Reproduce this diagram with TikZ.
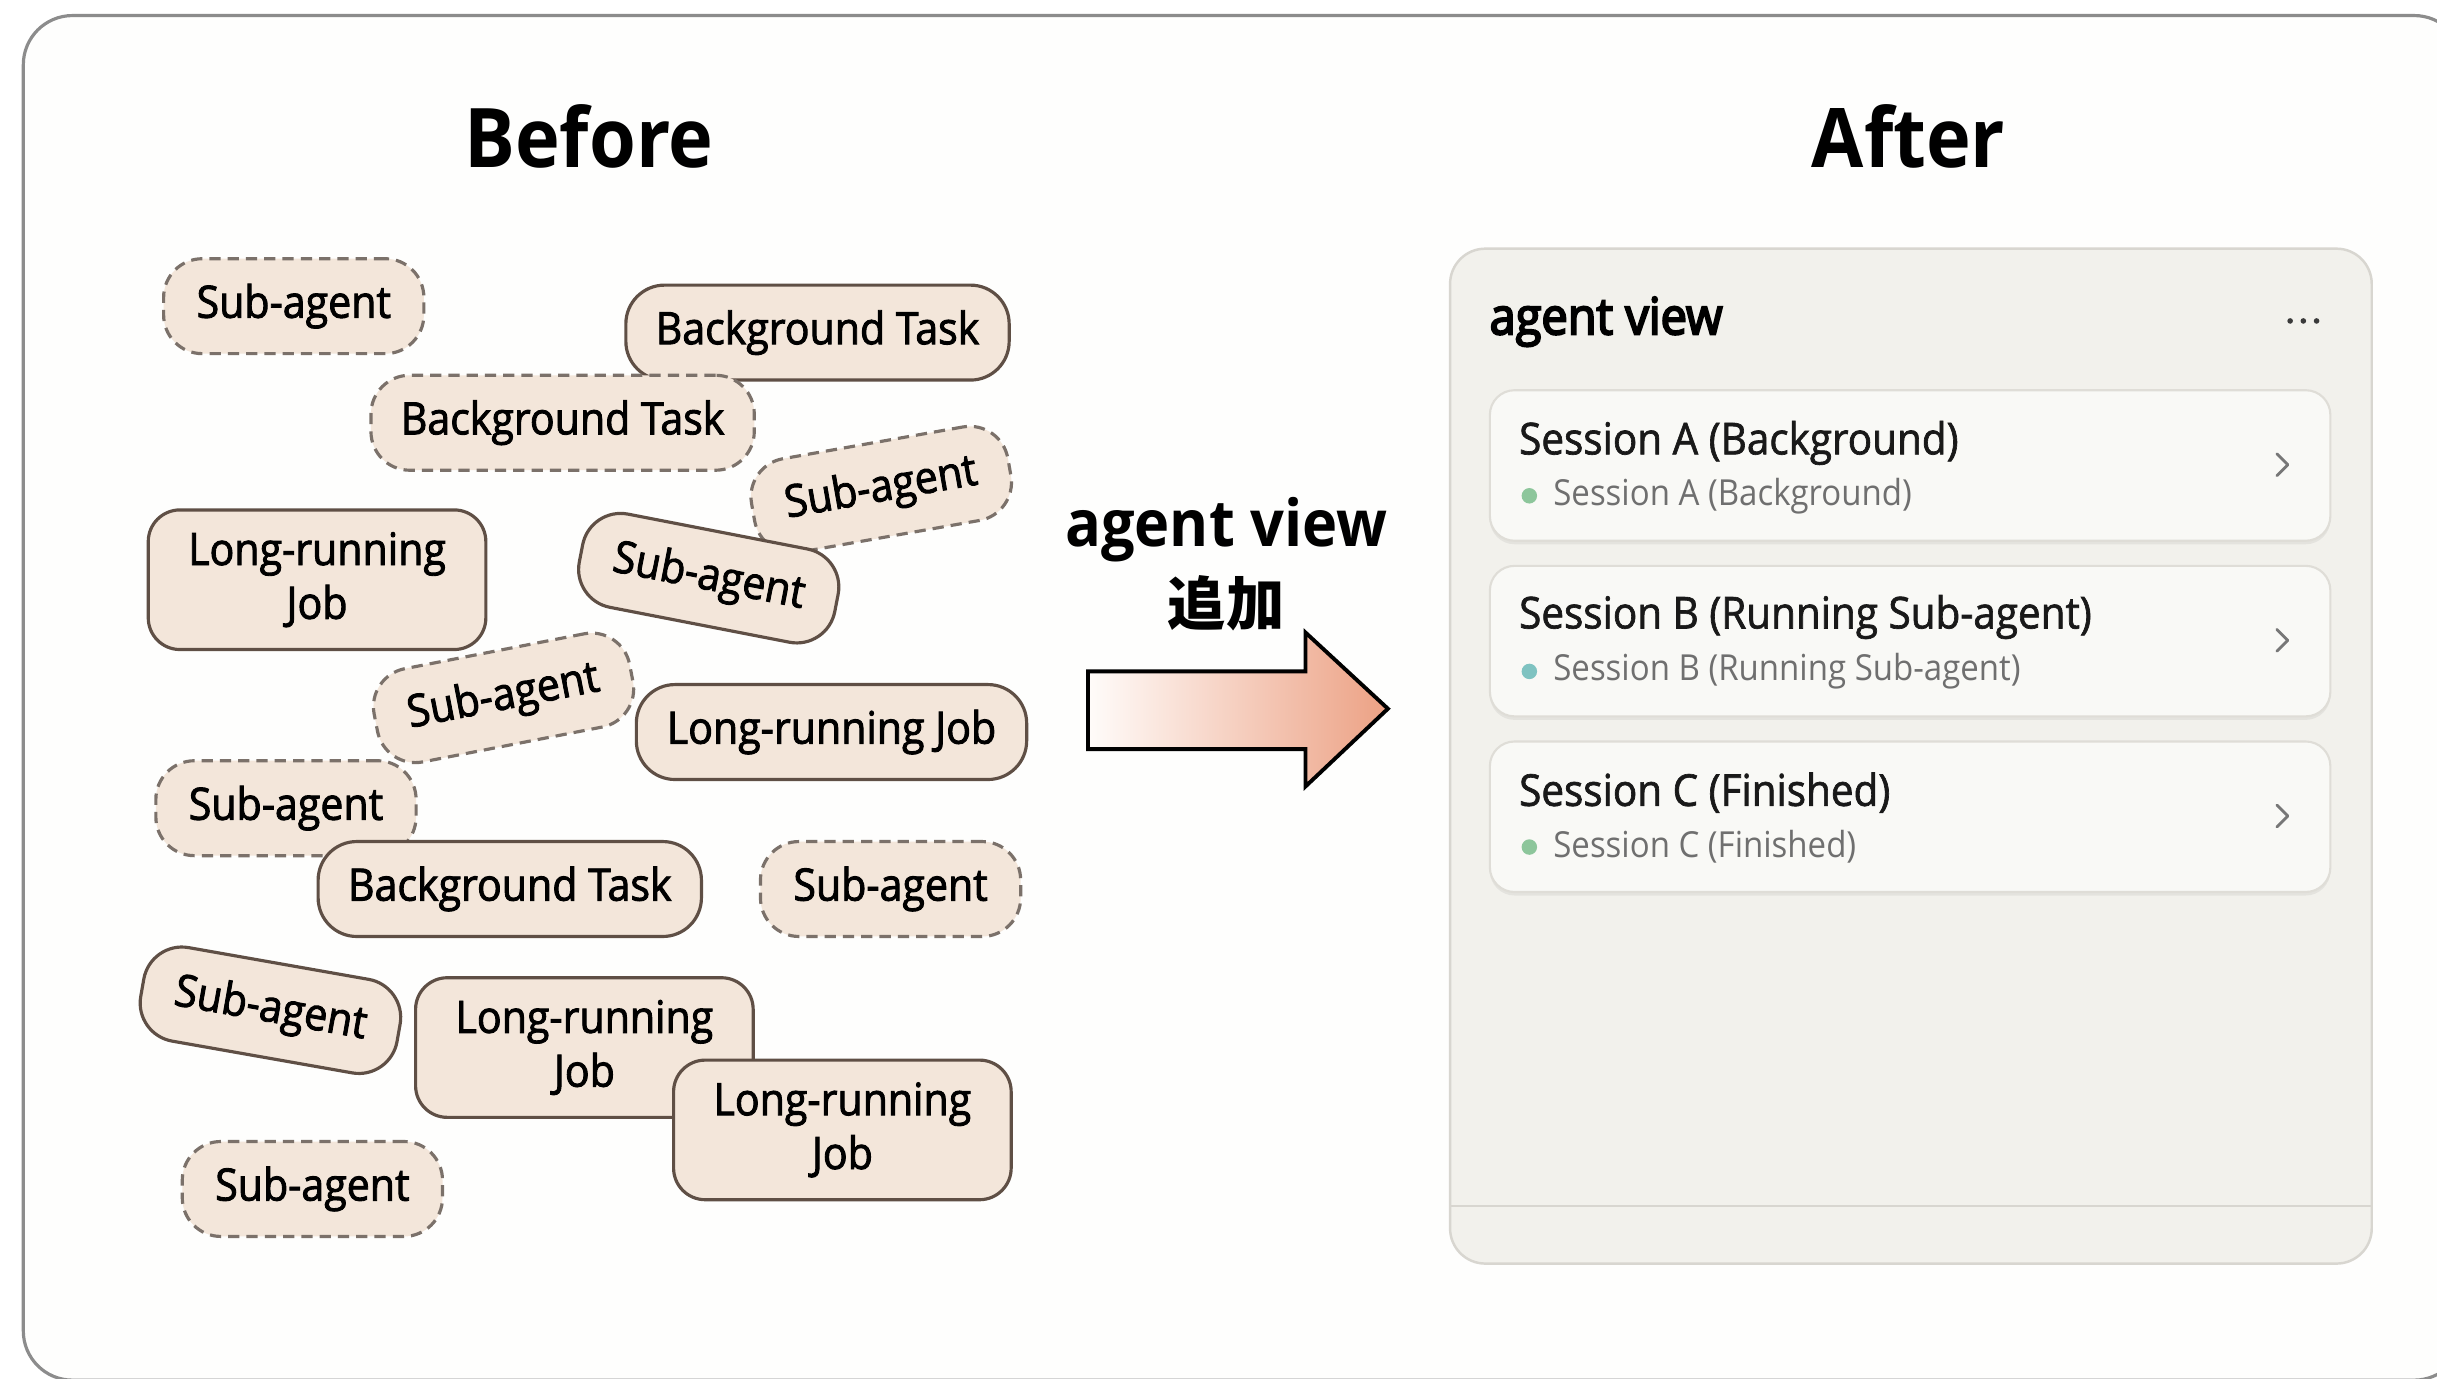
\documentclass[tikz,border=0pt]{standalone}
\usepackage{fontspec}
\setmainfont{Open Sans}[FakeStretch=0.92]
\newfontfamily\tagfam{Open Sans}[FakeStretch=0.92, FakeBold=2]
\newfontfamily\sesfam{Open Sans}[FakeStretch=0.92, FakeBold=1.5]
\newfontfamily\semib{Open Sans}[FakeStretch=0.92, FakeBold=4]
\newfontfamily\cjk{Noto Sans CJK JP}
\usetikzlibrary{shadows}
\definecolor{tagfill}{HTML}{F3E6DA}
\definecolor{tagline}{HTML}{5F4F45}
\definecolor{dashline}{HTML}{7B716A}
\definecolor{framegray}{HTML}{8C8C8C}
\definecolor{framefill}{HTML}{FEFEFD}
\definecolor{panelfill}{HTML}{F2F1EC}
\definecolor{panelline}{HTML}{D8D6D0}
\definecolor{cardfill}{HTML}{F9F9F6}
\definecolor{cardline}{HTML}{DFDDD7}
\definecolor{subgray}{HTML}{6F6F6F}
\definecolor{dotgreen}{HTML}{8DC69B}
\definecolor{dotteal}{HTML}{7FC3C1}
\definecolor{arrowsalmon}{HTML}{ECA184}
\definecolor{arrowlight}{HTML}{FFFCFA}
\definecolor{chevgray}{HTML}{777777}
\definecolor{dotdark}{HTML}{3A3A3A}
\newcommand\tagfont{\fontsize{12.7pt}{15.3pt}\selectfont\tagfam}
\newcommand\titlefont{\fontsize{23.4pt}{26pt}\selectfont\bfseries}
\newcommand\arrowfont{\fontsize{18.4pt}{21pt}\selectfont\bfseries}
\newcommand\headfont{\fontsize{14.5pt}{17pt}\selectfont\semib}
\newcommand\sesfont{\fontsize{12.5pt}{15pt}\selectfont\sesfam}
\newcommand\subfont{\fontsize{10.2pt}{12pt}\selectfont}
\begin{document}
\begin{tikzpicture}[x=0.01554cm, y=-0.01554cm,
  tag/.style={rounded corners=11pt, fill=tagfill, line width=0.9pt, minimum height=27pt, inner sep=2pt, font=\tagfont, align=center},
  soltag/.style={tag, draw=tagline},
  dashtag/.style={tag, draw=dashline, dash pattern=on 3.2pt off 2pt},
  sizesa/.style={minimum width=74pt},
  sizebt/.style={minimum width=109pt},
  sizelj/.style={minimum width=111pt},
  sizeljtwo/.style={minimum width=96pt, minimum height=39.7pt, rounded corners=9pt},
  card/.style={rounded corners=7pt, fill=cardfill, draw=cardline, line width=0.6pt, minimum width=239pt, minimum height=42.8pt, drop shadow={opacity=0.12, shadow xshift=0pt, shadow yshift=-1pt}},
  sestitle/.style={anchor=west, font=\sesfont, text=black!90, inner sep=0pt},
  sessub/.style={anchor=west, font=\subfont, text=subgray, inner sep=0pt},
  chev/.style={draw=chevgray, line width=0.8pt, line cap=round, line join=round},
]
\useasboundingbox (0,0) rectangle (1568,887);
\clip (0,0) rectangle (1568,887);
\fill[white] (0,0) rectangle (1568,887);
% outer frame
\draw[framegray, line width=0.9pt, rounded corners=14pt, fill=framefill] (15,10) rectangle (1585,888);

% titles
\node[font=\titlefont] (before) at (379,88) {Before};
\node[font=\titlefont] (after) at (1228,88) {After};

% before tags
\node[dashtag, sizesa] (sa1) at (189,197) {Sub-agent};
\node[soltag, sizebt] (bt1) at (526,214) {Background Task};
\node[dashtag, sizebt] (bt2) at (362,272) {Background Task};
\node[dashtag, sizesa, rotate=10] (sa2) at (567,315) {Sub-agent};
\node[soltag, sizeljtwo] (lj1) at (204,373) {Long-running\\Job};
\node[soltag, sizesa, rotate=-11] (sa3) at (456,372) {Sub-agent};
\node[dashtag, sizesa, rotate=11] (sa4) at (324,449) {Sub-agent};
\node[soltag, sizelj] (lj2) at (535,471) {Long-running Job};
\node[dashtag, sizesa] (sa5) at (184,520) {Sub-agent};
\node[soltag, sizebt] (bt3) at (328,572) {Background Task};
\node[dashtag, sizesa] (sa6) at (573,572) {Sub-agent};
\node[soltag, sizesa, rotate=-10] (sa7) at (174,650) {Sub-agent};
\node[soltag, sizeljtwo] (lj3) at (376,674) {Long-running\\Job};
\node[soltag, sizeljtwo] (lj4) at (542,727) {Long-running\\Job};
\node[dashtag, sizesa] (sa8) at (201,765) {Sub-agent};

% arrow
\node[font=\arrowfont] (lbl1) at (789,341) {agent view};
\node[font=\fontsize{16.6pt}{19pt}\selectfont] (lbl2) at (789,388) {\cjk\bfseries 追加};
\draw[line width=1.1pt, line join=miter, left color=arrowlight, right color=arrowsalmon]
  (700,432) -- (840,432) -- (840,407) -- (893,456) -- (840,506) -- (840,482) -- (700,482) -- cycle;

% after panel
\draw[panelline, fill=panelfill, line width=0.7pt, rounded corners=10pt] (933,160) rectangle (1526,813);
\draw[panelline, line width=0.7pt] (933,776) -- (1526,776);
\node[anchor=west, font=\headfont, inner sep=0pt] (hdr) at (958,207) {agent view};
\fill[dotdark] (1473.5,206.5) circle (0.8pt) (1482,206.5) circle (0.8pt) (1490.5,206.5) circle (0.8pt);

\node[card] (cardA) at (1229,299.5) {};
\node[card] (cardB) at (1229,412.5) {};
\node[card] (cardC) at (1229,525.5) {};

\node[sestitle] (tA) at (977,285) {Session A (Background)};
\fill[dotgreen] (984,319) circle (2.2pt);
\node[sessub] (sA) at (999,319) {Session A (Background)};
\draw[chev] (1465,292) -- (1472,299) -- (1465,306);

\node[sestitle] (tB) at (977,397) {Session B (Running Sub-agent)};
\fill[dotteal] (984,432) circle (2.2pt);
\node[sessub] (sB) at (999,432) {Session B (Running Sub-agent)};
\draw[chev] (1465,405) -- (1472,412) -- (1465,419);

\node[sestitle] (tC) at (977,510) {Session C (Finished)};
\fill[dotgreen] (984,545) circle (2.2pt);
\node[sessub] (sC) at (999,545) {Session C (Finished)};
\draw[chev] (1465,518) -- (1472,525) -- (1465,532);
\end{tikzpicture}
\end{document}
